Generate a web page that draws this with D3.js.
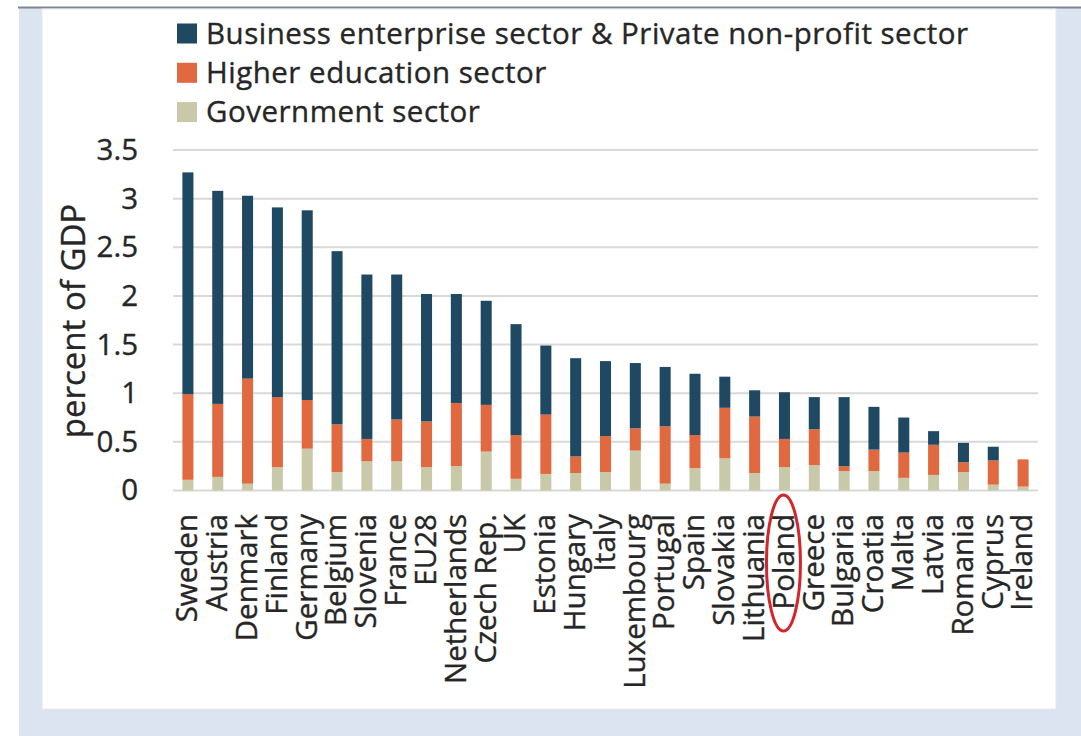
<!DOCTYPE html>
<html>
<head>
  <meta charset="UTF-8">
  <title>R&D expenditure by sector</title>
  <script src="https://cdn.jsdelivr.net/npm/d3@7"></script>
  <style>
    body { margin: 0; background: #ffffff; }
    svg { display: block; font-family: "Open Sans", sans-serif; }
    text { stroke: #262626; stroke-width: 0.35px; }
  </style>
</head>
<body>
<div id="chart"></div>
<script>
// countries, sorted by total R&D expenditure
var countries = ["Sweden", "Austria", "Denmark", "Finland", "Germany", "Belgium", "Slovenia",
  "France", "EU28", "Netherlands", "Czech Rep.", "UK", "Estonia", "Hungary", "Italy",
  "Luxembourg", "Portugal", "Spain", "Slovakia", "Lithuania", "Poland", "Greece",
  "Bulgaria", "Croatia", "Malta", "Latvia", "Romania", "Cyprus", "Ireland"];

// percent of GDP, per sector
var government = [0.11, 0.14, 0.07, 0.24, 0.43, 0.19, 0.30, 0.30, 0.24, 0.25, 0.40, 0.12, 0.17, 0.18, 0.19,
  0.41, 0.07, 0.23, 0.33, 0.18, 0.24, 0.26, 0.20, 0.20, 0.13, 0.16, 0.19, 0.06, 0.04];
var higherEducation = [0.88, 0.75, 1.08, 0.72, 0.50, 0.49, 0.23, 0.43, 0.47, 0.65, 0.48, 0.45, 0.61, 0.17, 0.37,
  0.23, 0.59, 0.34, 0.52, 0.58, 0.29, 0.37, 0.05, 0.22, 0.26, 0.31, 0.10, 0.25, 0.28];
var business = [2.28, 2.19, 1.88, 1.95, 1.95, 1.78, 1.69, 1.49, 1.31, 1.12, 1.07, 1.14, 0.71, 1.01, 0.77,
  0.67, 0.61, 0.63, 0.32, 0.27, 0.48, 0.33, 0.71, 0.44, 0.36, 0.14, 0.20, 0.14, 0];

var seriesNames = ["Business enterprise sector & Private non-profit sector",
  "Higher education sector", "Government sector"];
var yTicks = [0, 0.5, 1, 1.5, 2, 2.5, 3, 3.5];
var highlight = "Poland";

var colors = {
  government: "#c9c9aa",
  higherEducation: "#e0693f",
  business: "#1f4863"
};

var W = 1081, H = 736;
var svg = d3.select("#chart").append("svg").attr("width", W).attr("height", H);

// frame: light blue border and white panel
svg.append("rect").attr("x", 0).attr("y", 0).attr("width", W).attr("height", H).attr("fill", "#ffffff");
svg.append("rect").attr("x", 19).attr("y", 8).attr("width", W - 19).attr("height", H - 8).attr("fill", "#dbe4f0");
svg.append("line").attr("x1", 18).attr("x2", W).attr("y1", 7.5).attr("y2", 7.5)
  .attr("stroke", "#7d8894").attr("stroke-width", 2);
svg.append("rect").attr("x", 42).attr("y", 9).attr("width", 1014).attr("height", 700)
  .attr("fill", "#ffffff").attr("stroke", "#e4e8ee").attr("stroke-width", 1);

var x = d3.scaleBand().domain(countries).range([173, 1038]).paddingInner(0.63).paddingOuter(0.315);
var y = d3.scaleLinear().domain([0, 3.5]).range([490.5, 150]);

// gridlines
svg.append("g").selectAll("line").data(yTicks).join("line")
  .attr("x1", 173).attr("x2", 1038)
  .attr("y1", function(d) { return y(d); }).attr("y2", function(d) { return y(d); })
  .attr("stroke", "#d9d9d9").attr("stroke-width", 2);

// y axis
var yAxis = svg.append("g").attr("transform", "translate(140,0)")
  .call(d3.axisLeft(y).tickValues(yTicks).tickSize(0).tickPadding(2).tickFormat(d3.format("")));
yAxis.select(".domain").remove();
yAxis.selectAll("text").attr("font-size", 29.5).attr("fill", "#262626")
  .attr("font-family", "Open Sans, sans-serif");

svg.append("text")
  .attr("transform", "translate(73,321) rotate(-90)")
  .attr("dy", "0.35em")
  .attr("text-anchor", "middle")
  .attr("font-size", 33)
  .attr("fill", "#262626")
  .text("percent of GDP");

// stacked bars
var rows = countries.map(function(c, i) {
  return { country: c, government: government[i], higherEducation: higherEducation[i], business: business[i] };
});
var stack = d3.stack().keys(["government", "higherEducation", "business"]);
var layers = stack(rows);

svg.append("g").selectAll("g").data(layers).join("g")
  .attr("fill", function(d) { return colors[d.key]; })
  .selectAll("rect").data(function(d) { return d; }).join("rect")
  .attr("x", function(d) { return x(d.data.country); })
  .attr("width", x.bandwidth())
  .attr("y", function(d) { return y(d[1]); })
  .attr("height", function(d) { return y(d[0]) - y(d[1]); });

// x labels
var xAxis = svg.append("g").attr("transform", "translate(0,500)")
  .call(d3.axisBottom(x).tickSize(0).tickPadding(0));
xAxis.select(".domain").remove();
xAxis.selectAll("text")
  .attr("transform", "rotate(-90)")
  .attr("x", -14).attr("y", -1).attr("dy", "0.35em")
  .attr("text-anchor", "end")
  .attr("font-size", 29.5)
  .attr("fill", "#262626")
  .attr("font-family", "Open Sans, sans-serif");

// red ellipse around Poland
svg.append("ellipse")
  .attr("cx", x(highlight) + x.bandwidth() / 2 - 1)
  .attr("cy", 563)
  .attr("rx", 17).attr("ry", 68)
  .attr("fill", "none").attr("stroke", "#d3262b").attr("stroke-width", 3);

// legend
var legendKeys = ["business", "higherEducation", "government"];
var legend = svg.append("g").selectAll("g").data(seriesNames).join("g")
  .attr("transform", function(d, i) { return "translate(177," + (33.5 + i * 39.3) + ")"; });
legend.append("rect").attr("x", 0).attr("y", -10).attr("width", 20).attr("height", 20)
  .attr("fill", function(d, i) { return colors[legendKeys[i]]; });
legend.append("text").attr("x", 29).attr("dy", "0.35em")
  .attr("font-size", 29.5).attr("fill", "#262626")
  .attr("letter-spacing", 0.5)
  .text(function(d) { return d; });
</script>
</body>
</html>
